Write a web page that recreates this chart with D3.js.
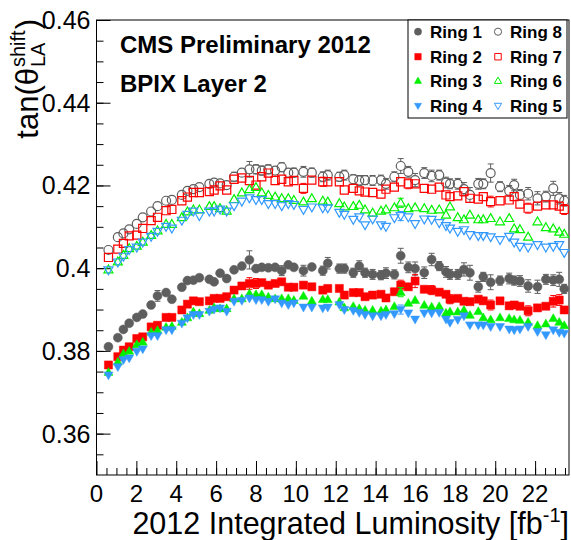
<!DOCTYPE html>
<html><head><meta charset="utf-8">
<script src="https://cdn.jsdelivr.net/npm/d3@7"></script>
<style>
html,body{margin:0;padding:0;background:#fff;}
svg{display:block;font-family:"Liberation Sans",Arial,Helvetica,sans-serif;}
</style></head>
<body>
<svg id="chart" width="571" height="540"></svg>
<script>
// ---------------- data ----------------
const luminosity = [0.6,1.07,1.35,1.64,2.02,2.32,2.74,3.06,3.49,3.78,4.28,4.56,4.86,5.16,5.66,5.9,6.2,6.53,6.9,7.29,7.67,8.0,8.29,8.62,8.96,9.29,9.62,9.9,10.38,10.8,11.35,11.6,12.18,12.43,12.88,13.18,13.47,13.85,14.27,14.52,14.94,15.26,15.64,15.98,16.44,16.81,17.19,17.53,17.73,18.12,18.43,18.73,19.15,19.4,19.77,20.24,20.7,20.95,21.24,21.65,22.12,22.54,22.91,23.21,23.46];

const ring1 = [0.3810,0.3832,0.3852,0.3867,0.3881,0.3889,0.3911,0.3933,0.3941,0.3925,0.3954,0.3970,0.3971,0.3977,0.3973,0.3967,0.3988,0.3975,0.3996,0.4005,0.4020,0.3999,0.4002,0.4001,0.4002,0.3994,0.4008,0.4002,0.3994,0.4003,0.3994,0.4012,
 0.3999,0.3999,0.3989,0.4005,0.3989,0.3985,0.3983,0.3988,0.3985,0.4030,0.4002,0.3999,0.3989,0.4021,0.4005,0.3991,0.3985,0.3985,0.3997,0.3989,0.3955,0.3979,0.3966,0.3970,0.3975,0.3970,0.3969,0.3957,0.3955,0.3973,0.3971,0.3973,0.3950];
const ring2 = [0.3766,0.3786,0.3802,0.3810,0.3830,0.3834,0.3858,0.3862,0.3881,0.3881,0.3899,0.3913,0.3921,0.3919,0.3921,0.3927,0.3927,0.3931,0.3947,0.3957,0.3963,0.3963,0.3965,0.3959,0.3963,0.3967,0.3954,0.3954,0.3959,0.3955,0.3947,0.3951,
 0.3951,0.3935,0.3941,0.3941,0.3931,0.3935,0.3937,0.3928,0.3943,0.3959,0.3955,0.3969,0.3949,0.3947,0.3942,0.3937,0.3925,0.3927,0.3920,0.3919,0.3925,0.3921,0.3911,0.3921,0.3909,0.3911,0.3908,0.3897,0.3904,0.3908,0.3920,0.3923,0.3899];
const ring3 = [0.3749,0.3774,0.3794,0.3800,0.3816,0.3822,0.3846,0.3850,0.3858,0.3860,0.3870,0.3881,0.3895,0.3891,0.3899,0.3905,0.3903,0.3903,0.3927,0.3927,0.3939,0.3937,0.3937,0.3931,0.3927,0.3927,0.3927,0.3923,0.3933,0.3921,0.3925,0.3925,
 0.3919,0.3905,0.3908,0.3903,0.3899,0.3899,0.3897,0.3900,0.3908,0.3942,0.3916,0.3923,0.3911,0.3907,0.3908,0.3892,0.3895,0.3895,0.3899,0.3887,0.3896,0.3881,0.3876,0.3881,0.3879,0.3876,0.3875,0.3870,0.3862,0.3866,0.3879,0.3870,0.3862];
const ring4 = [0.3741,0.3761,0.3778,0.3782,0.3798,0.3804,0.3836,0.3836,0.3850,0.3850,0.3866,0.3879,0.3887,0.3887,0.3895,0.3900,0.3903,0.3895,0.3919,0.3921,0.3927,0.3923,0.3923,0.3919,0.3925,0.3915,0.3911,0.3915,0.3905,0.3905,0.3903,0.3905,
 0.3911,0.3899,0.3897,0.3892,0.3887,0.3884,0.3884,0.3887,0.3889,0.3900,0.3891,0.3876,0.3891,0.3891,0.3892,0.3876,0.3868,0.3875,0.3884,0.3862,0.3862,0.3862,0.3858,0.3858,0.3852,0.3850,0.3852,0.3858,0.3846,0.3838,0.3850,0.3844,0.3842];
const ring5 = [0.3995,0.4014,0.4028,0.4044,0.4050,0.4062,0.4076,0.4088,0.4100,0.4096,0.4115,0.4129,0.4137,0.4126,0.4137,0.4137,0.4142,0.4137,0.4150,0.4161,0.4169,0.4165,0.4165,0.4155,0.4155,0.4150,0.4155,0.4153,0.4141,0.4147,0.4145,0.4145,
 0.4134,0.4129,0.4117,0.4123,0.4104,0.4118,0.4104,0.4100,0.4121,0.4126,0.4123,0.4107,0.4118,0.4117,0.4109,0.4102,0.4096,0.4088,0.4092,0.4080,0.4078,0.4078,0.4075,0.4068,0.4076,0.4062,0.4052,0.4050,0.4056,0.4050,0.4052,0.4056,0.4037];
const ring6 = [0.3997,0.4016,0.4032,0.4048,0.4054,0.4064,0.4080,0.4091,0.4107,0.4107,0.4123,0.4137,0.4142,0.4142,0.4150,0.4150,0.4145,0.4139,0.4167,0.4183,0.4191,0.4196,0.4183,0.4177,0.4173,0.4169,0.4169,0.4165,0.4161,0.4169,0.4163,0.4161,
 0.4157,0.4149,0.4150,0.4153,0.4142,0.4134,0.4139,0.4142,0.4147,0.4158,0.4145,0.4147,0.4145,0.4141,0.4142,0.4129,0.4149,0.4123,0.4118,0.4129,0.4118,0.4118,0.4121,0.4113,0.4121,0.4096,0.4094,0.4076,0.4113,0.4099,0.4096,0.4088,0.4083];
const ring7 = [0.4026,0.4046,0.4060,0.4078,0.4080,0.4096,0.4115,0.4123,0.4139,0.4142,0.4163,0.4172,0.4183,0.4183,0.4185,0.4189,0.4199,0.4189,0.4215,0.4218,0.4212,0.4201,0.4221,0.4230,0.4212,0.4215,0.4209,0.4212,0.4193,0.4213,0.4209,0.4209,
 0.4209,0.4189,0.4193,0.4187,0.4184,0.4183,0.4179,0.4191,0.4196,0.4209,0.4204,0.4204,0.4193,0.4191,0.4196,0.4177,0.4173,0.4175,0.4185,0.4169,0.4167,0.4173,0.4161,0.4163,0.4165,0.4173,0.4155,0.4145,0.4150,0.4153,0.4153,0.4150,0.4142];
const ring8 = [0.4044,0.4075,0.4084,0.4094,0.4107,0.4123,0.4137,0.4150,0.4163,0.4165,0.4177,0.4187,0.4191,0.4196,0.4204,0.4207,0.4205,0.4201,0.4221,0.4231,0.4239,0.4239,0.4236,0.4239,0.4236,0.4244,0.4231,0.4231,0.4233,0.4231,0.4221,0.4225,
 0.4221,0.4225,0.4215,0.4212,0.4213,0.4212,0.4213,0.4204,0.4221,0.4247,0.4233,0.4213,0.4230,0.4223,0.4225,0.4207,0.4204,0.4204,0.4191,0.4177,0.4204,0.4204,0.4230,0.4197,0.4187,0.4201,0.4177,0.4180,0.4169,0.4173,0.4193,0.4169,0.4163];

// statistical uncertainties
const err1 = [0.0008,0.0008,0.0008,0.0008,0.0008,0.0008,0.0008,0.0013,0.0009,0.0010,0.0008,0.0008,0.0008,0.0008,0.0009,0.0008,0.0009,0.0008,0.0009,0.0009,0.0022,0.0010,0.0010,0.0010,0.0010,0.0012,0.0010,0.0010,0.0013,0.0010,0.0011,0.0014,
 0.0011,0.0011,0.0011,0.0013,0.0011,0.0012,0.0011,0.0013,0.0011,0.0018,0.0013,0.0016,0.0014,0.0015,0.0011,0.0013,0.0012,0.0012,0.0016,0.0018,0.0013,0.0011,0.0018,0.0011,0.0013,0.0011,0.0013,0.0015,0.0016,0.0012,0.0013,0.0017,0.0011];
const err8 = [0.0008,0.0008,0.0008,0.0008,0.0008,0.0008,0.0008,0.0010,0.0009,0.0009,0.0008,0.0008,0.0009,0.0008,0.0009,0.0009,0.0009,0.0009,0.0011,0.0010,0.0019,0.0011,0.0011,0.0011,0.0010,0.0011,0.0010,0.0011,0.0013,0.0011,0.0012,0.0012,
 0.0011,0.0012,0.0011,0.0012,0.0011,0.0012,0.0012,0.0013,0.0012,0.0018,0.0013,0.0016,0.0013,0.0014,0.0012,0.0013,0.0012,0.0013,0.0016,0.0018,0.0013,0.0012,0.0022,0.0012,0.0013,0.0014,0.0013,0.0015,0.0016,0.0013,0.0017,0.0014,0.0013];
const err2 = [0.0007,0.0007,0.0007,0.0007,0.0007,0.0007,0.0007,0.0007,0.0007,0.0007,0.0007,0.0007,0.0007,0.0007,0.0007,0.0007,0.0007,0.0007,0.0007,0.0007,0.0014,0.0012,0.0008,0.0008,0.0008,0.0008,0.0008,0.0008,0.0008,0.0008,0.0008,0.0010,
 0.0008,0.0008,0.0008,0.0008,0.0008,0.0008,0.0008,0.0008,0.0008,0.0012,0.0008,0.0016,0.0009,0.0011,0.0009,0.0009,0.0011,0.0009,0.0009,0.0009,0.0009,0.0009,0.0012,0.0009,0.0009,0.0009,0.0009,0.0012,0.0009,0.0009,0.0014,0.0013,0.0009];
const err7 = [0.0007,0.0007,0.0007,0.0007,0.0007,0.0007,0.0007,0.0007,0.0007,0.0007,0.0007,0.0007,0.0007,0.0007,0.0007,0.0007,0.0007,0.0007,0.0008,0.0008,0.0009,0.0009,0.0008,0.0008,0.0008,0.0008,0.0008,0.0008,0.0012,0.0008,0.0011,0.0008,
 0.0008,0.0008,0.0008,0.0008,0.0008,0.0008,0.0008,0.0009,0.0008,0.0009,0.0012,0.0009,0.0009,0.0009,0.0009,0.0009,0.0010,0.0010,0.0009,0.0009,0.0009,0.0009,0.0013,0.0009,0.0009,0.0009,0.0009,0.0012,0.0009,0.0009,0.0009,0.0009,0.0012];
const errSmall = [0.0006,0.0006,0.0006,0.0006,0.0006,0.0006,0.0006,0.0006,0.0006,0.0006,0.0006,0.0006,0.0006,0.0006,0.0006,0.0006,0.0006,0.0006,0.0006,0.0006,0.0008,0.0007,0.0006,0.0006,0.0006,0.0006,0.0006,0.0006,0.0007,0.0006,0.0007,0.0007,
 0.0007,0.0007,0.0007,0.0007,0.0007,0.0007,0.0007,0.0007,0.0007,0.0011,0.0007,0.0008,0.0007,0.0008,0.0007,0.0007,0.0008,0.0007,0.0008,0.0009,0.0007,0.0007,0.0009,0.0007,0.0007,0.0008,0.0007,0.0009,0.0008,0.0007,0.0009,0.0008,0.0008];

const ringNames = ["Ring 1","Ring 8","Ring 2","Ring 7","Ring 3","Ring 6","Ring 4","Ring 5"];
const ringValues = [ring1, ring8, ring2, ring7, ring3, ring6, ring4, ring5];
const ringErrors = [err1, err8, err2, err7, errSmall, errSmall, errSmall, errSmall];
const xTickValues = [0,2,4,6,8,10,12,14,16,18,20,22];
const yTickValues = [0.36,0.38,0.40,0.42,0.44,0.46];
const yTickLabels = ["0.36","0.38","0.4","0.42","0.44","0.46"];

// ---------------- styles ----------------
const GRAY = "#5e5e5e", RED = "#ff0000", GREEN = "#00f000", BLUE = "#3399ff";
const styles = [
  {shape:"circle", fill:true,  color:GRAY},
  {shape:"circle", fill:false, color:GRAY},
  {shape:"square", fill:true,  color:RED},
  {shape:"square", fill:false, color:RED},
  {shape:"up",     fill:true,  color:GREEN},
  {shape:"up",     fill:false, color:GREEN},
  {shape:"down",   fill:true,  color:BLUE},
  {shape:"down",   fill:false, color:BLUE}
];

const svg = d3.select("#chart");
const L = 96.5, R = 569, T = 20, B = 475;
const x = d3.scaleLinear().domain([0, 23.7]).range([L, R]);
const y = d3.scaleLinear().domain([0.35, 0.46]).range([B, T]);

function markerPath(shape, r) {
  const p = d3.path();
  if (shape === "circle") { p.arc(0, 0, r, 0, 2*Math.PI); p.closePath(); }
  else if (shape === "square") { const s = r*0.9; p.rect(-s, -s, 2*s, 2*s); }
  else if (shape === "up") { p.moveTo(0, -r); p.lineTo(r, r*0.75); p.lineTo(-r, r*0.75); p.closePath(); }
  else { p.moveTo(0, r); p.lineTo(r, -r*0.75); p.lineTo(-r, -r*0.75); p.closePath(); }
  return p.toString();
}

// ---------------- frame & axes ----------------
svg.append("rect").attr("x", L).attr("y", T).attr("width", R - L).attr("height", B - T)
  .attr("fill", "#fff").attr("stroke", "#000").attr("stroke-width", 1);

const yAxisMajor = d3.axisRight(y).tickValues(yTickValues).tickSize(14).tickFormat("");
const yAxisMinor = d3.axisRight(y).tickValues(d3.range(0.355, 0.4601, 0.005)).tickSize(7).tickFormat("");
const xAxisMajor = d3.axisTop(x).tickValues(xTickValues).tickSize(14).tickFormat("");
const xAxisMinor = d3.axisTop(x).tickValues(d3.range(0.5, 23.6, 0.5)).tickSize(7).tickFormat("");
[[yAxisMinor,`translate(${L},0)`],[yAxisMajor,`translate(${L},0)`],[xAxisMinor,`translate(0,${B})`],[xAxisMajor,`translate(0,${B})`]]
  .forEach(([ax, tr]) => {
    const g = svg.append("g").attr("transform", tr).call(ax);
    g.select(".domain").remove();
    g.selectAll("line").attr("stroke", "#000").attr("stroke-width", 1);
  });

// tick labels
svg.append("g").selectAll("text").data(yTickValues).join("text")
  .attr("x", L - 6).attr("y", d => y(d)).attr("dy", "0.36em")
  .attr("text-anchor", "end").attr("font-size", 25).attr("fill", "#000")
  .text((d, i) => yTickLabels[i]);
svg.append("g").selectAll("text").data(xTickValues).join("text")
  .attr("x", d => x(d)).attr("y", 502)
  .attr("text-anchor", "middle").attr("font-size", 24).attr("fill", "#000")
  .text(d => d);

// axis titles
const xt = svg.append("text").attr("x", R).attr("y", 534).attr("text-anchor", "end")
  .attr("font-size", 30.5).attr("fill", "#000");
xt.append("tspan").text("2012 Integrated Luminosity [fb");
xt.append("tspan").attr("font-size", 20).attr("dy", -12).text("-1");
xt.append("tspan").attr("dy", 12).text("]");

const yg = svg.append("g");
const t1 = yg.append("text").attr("x", 0).attr("y", 0).attr("font-size", 31).text("tan(\u03b8");
const w1 = t1.node().getComputedTextLength();
const sup = yg.append("text").attr("x", w1 + 1).attr("y", -13).attr("font-size", 20).text("shift");
const sub = yg.append("text").attr("x", w1 + 1).attr("y", 7).attr("font-size", 20).text("LA");
const w2 = Math.max(sup.node().getComputedTextLength(), sub.node().getComputedTextLength());
const t3 = yg.append("text").attr("x", w1 + w2 + 2).attr("y", 0).attr("font-size", 31).text(")");
const total = w1 + w2 + 2 + t3.node().getComputedTextLength();
yg.attr("transform", `translate(38,${T - 1 + total}) rotate(-90)`).attr("fill", "#000");

// ---------------- data points ----------------
const plot = svg.append("g");
const MR = 4.5;
ringValues.forEach((vals, si) => {
  const st = styles[si];
  const errs = ringErrors[si];
  const pts = luminosity.map((lx, i) => ({lx, v: vals[i], e: errs[i]}));
  const g = plot.append("g");
  // error bars (segments outside the marker) with caps
  pts.forEach(p => {
    const cx = x(p.lx), cy = y(p.v);
    const top = y(p.v + p.e), bot = y(p.v - p.e);
    if (cy - top > MR) {
      g.append("line").attr("x1", cx).attr("x2", cx).attr("y1", top).attr("y2", cy - MR)
        .attr("stroke", st.color).attr("stroke-width", 1);
      g.append("line").attr("x1", cx - 3).attr("x2", cx + 3).attr("y1", top).attr("y2", top)
        .attr("stroke", st.color).attr("stroke-width", 1);
      g.append("line").attr("x1", cx).attr("x2", cx).attr("y1", cy + MR).attr("y2", bot)
        .attr("stroke", st.color).attr("stroke-width", 1);
      g.append("line").attr("x1", cx - 3).attr("x2", cx + 3).attr("y1", bot).attr("y2", bot)
        .attr("stroke", st.color).attr("stroke-width", 1);
    }
  });
  g.selectAll("path").data(pts).join("path")
    .attr("transform", p => `translate(${x(p.lx)},${y(p.v)})`)
    .attr("d", markerPath(st.shape, MR))
    .attr("fill", st.fill ? st.color : "none")
    .attr("stroke", st.color).attr("stroke-width", st.fill ? 0.5 : 1.2);
});

// ---------------- labels ----------------
svg.append("text").attr("x", 120).attr("y", 53).attr("font-size", 24).attr("font-weight", "bold")
  .attr("fill", "#000").text("CMS Preliminary 2012");
svg.append("text").attr("x", 120).attr("y", 92).attr("font-size", 24).attr("font-weight", "bold")
  .attr("fill", "#000").text("BPIX Layer 2");

// ---------------- legend ----------------
const lg = svg.append("g");
lg.append("rect").attr("x", 408).attr("y", 20).attr("width", 159).attr("height", 98)
  .attr("fill", "#fff").attr("stroke", "#000").attr("stroke-width", 1);
const rowY = [31.7, 56.7, 80.7, 106];
ringNames.forEach((name, i) => {
  const col = i % 2, row = Math.floor(i / 2);
  const mx = col === 0 ? 418 : 498, ty = rowY[row];
  const st = styles[i];
  lg.append("path").attr("transform", `translate(${mx},${ty})`)
    .attr("d", markerPath(st.shape, 3.6))
    .attr("fill", st.fill ? st.color : "none")
    .attr("stroke", st.color).attr("stroke-width", st.fill ? 0.5 : 1);
  lg.append("text").attr("x", mx + 12).attr("y", ty).attr("dy", "0.36em")
    .attr("font-size", 17).attr("font-weight", "bold").attr("fill", "#000").text(name);
});
</script>
</body></html>
